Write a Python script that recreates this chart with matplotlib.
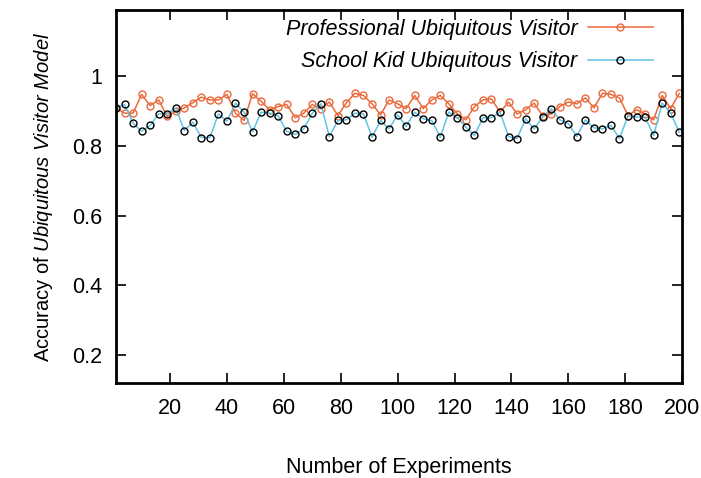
import matplotlib
matplotlib.use('Agg')
import matplotlib.pyplot as plt
import numpy as np

plt.rcParams['font.family'] = ['Liberation Sans', 'DejaVu Sans']
plt.rcParams['mathtext.fontset'] = 'custom'
plt.rcParams['mathtext.rm'] = 'Liberation Sans'
plt.rcParams['mathtext.it'] = 'Liberation Sans:italic'

# experiment index (every 3rd experiment)
experiments = np.arange(1, 200, 3)

professional = [
    0.909, 0.894, 0.894, 0.948, 0.916, 0.932, 0.885, 0.900, 0.909, 0.924,
    0.940, 0.932, 0.932, 0.948, 0.894, 0.873, 0.950, 0.928,
    0.904, 0.913, 0.919, 0.881, 0.894, 0.919, 0.907, 0.926, 0.887, 0.924,
    0.951, 0.945, 0.921, 0.889, 0.932, 0.921,
    0.907, 0.945, 0.907, 0.932, 0.945, 0.921, 0.892, 0.875, 0.913, 0.932,
    0.935, 0.897, 0.926, 0.892, 0.904, 0.923,
    0.886, 0.892, 0.913, 0.926, 0.921, 0.938, 0.909, 0.951, 0.948, 0.938,
    0.887, 0.904, 0.892, 0.875, 0.945, 0.907, 0.951,
]

school_kid = [
    0.909, 0.919, 0.865, 0.842, 0.859, 0.892, 0.892, 0.909, 0.844, 0.868,
    0.824, 0.824, 0.892, 0.871, 0.923, 0.897, 0.840, 0.897,
    0.894, 0.887, 0.842, 0.833, 0.849, 0.894, 0.921, 0.827, 0.873, 0.875,
    0.894, 0.892, 0.825, 0.873, 0.849, 0.889,
    0.856, 0.897, 0.878, 0.873, 0.825, 0.897, 0.881, 0.854, 0.830, 0.881,
    0.881, 0.897, 0.827, 0.821, 0.878, 0.849,
    0.883, 0.907, 0.875, 0.864, 0.827, 0.875, 0.852, 0.849, 0.859, 0.821,
    0.887, 0.883, 0.883, 0.830, 0.923, 0.894, 0.840,
]

fig = plt.figure(figsize=(7.01, 4.78), dpi=100)
ax = fig.add_axes([0.1655, 0.199, 0.8075, 0.780])

ax.plot(experiments, professional, color='#ea6a3c', lw=1.1, marker='o', ms=5,
        mfc='none', mec='#ea6a3c', mew=1.0, label='Professional Ubiquitous Visitor')
ax.plot(experiments, school_kid, color='#62c4e4', lw=1.1, marker='o', ms=5,
        mfc='none', mec='black', mew=1.0, label='School Kid Ubiquitous Visitor')

ax.set_xlim(1, 200)
ax.set_ylim(0.12, 1.19)
ax.set_xticks(np.arange(20, 201, 20))
ax.set_yticks([0.2, 0.4, 0.6, 0.8, 1.0])
ax.set_yticklabels(['0.2', '0.4', '0.6', '0.8', '1'])
ax.tick_params(direction='in', length=7, width=1.2, labelsize=15.5,
               top=True, right=True)
ax.tick_params(axis='x', pad=11)
ax.tick_params(axis='y', pad=10)
for s in ax.spines.values():
    s.set_linewidth(2)

ax.set_xlabel('Number of Experiments', fontsize=15.5, labelpad=27)
ax.set_ylabel(r'Accuracy of $\mathit{Ubiquitous\ Visitor\ Model}$', fontsize=14.5, labelpad=12)

leg = ax.legend(loc='upper right', frameon=False, markerfirst=False,
                prop={'style': 'italic', 'size': 15.5}, handlelength=3.0,
                borderaxespad=0.0, labelspacing=0.55, handletextpad=0.5,
                bbox_to_anchor=(0.963, 1.0))

plt.savefig('out.png', dpi=100)
